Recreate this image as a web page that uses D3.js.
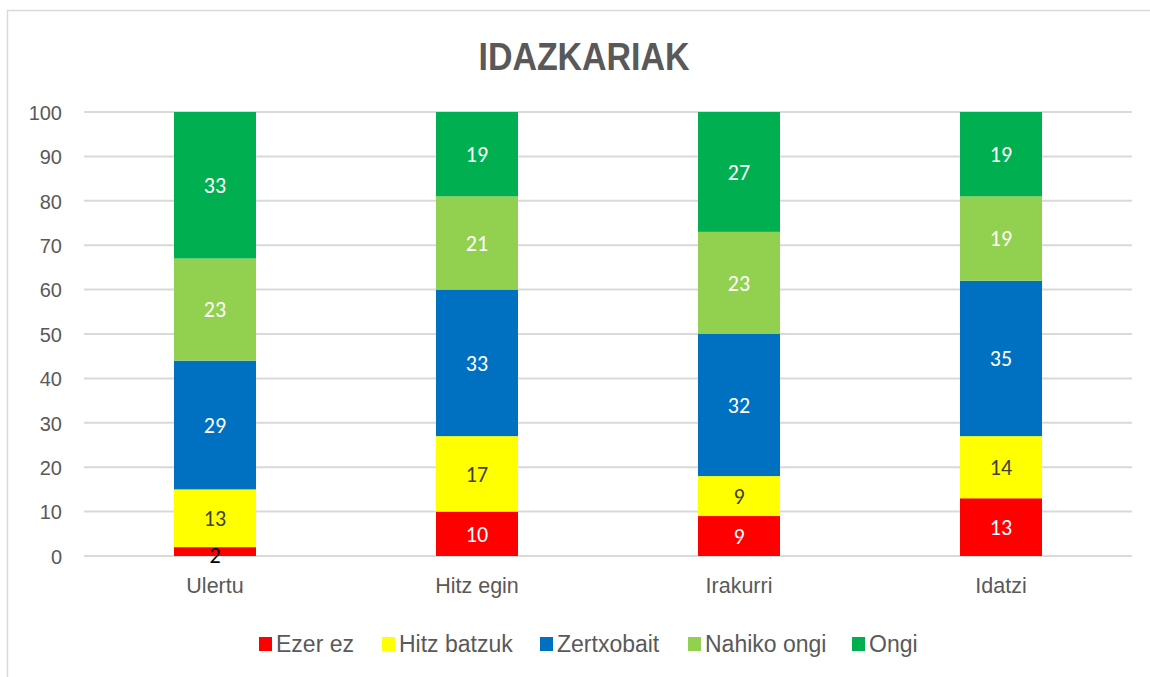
<!DOCTYPE html>
<meta charset="utf-8">
<body style="margin:0;background:#fff">
<style>
  .axis { font-family: "Liberation Sans", Arial, sans-serif; }
  .lbl { font-family: Carlito, Lato, "Open Sans", sans-serif; font-size: 22px; }
  .grid line { stroke: #d9d9d9; stroke-width: 2px; }
</style>
<svg width="1150" height="677"></svg>
<script src="https://d3js.org/d3.v7.min.js"></script>
<script>
var categories = ["Ulertu", "Hitz egin", "Irakurri", "Idatzi"];
var seriesNames = ["Ezer ez", "Hitz batzuk", "Zertxobait", "Nahiko ongi", "Ongi"];
var ezerEz     = [2, 10, 9, 13];
var hitzBatzuk = [13, 17, 9, 14];
var zertxobait = [29, 33, 32, 35];
var nahikoOngi = [23, 21, 23, 19];
var ongi       = [33, 19, 27, 19];
var yTicks = [0, 10, 20, 30, 40, 50, 60, 70, 80, 90, 100];

var colors = ["#ff0000", "#ffff00", "#0070c0", "#92d050", "#00b050"];
var labelColors = ["#ffffff", "#404040", "#ffffff", "#ffffff", "#ffffff"];

var svg = d3.select("svg");

// chart frame
svg.append("rect").attr("x", 7.5).attr("y", 10.5).attr("width", 1160).attr("height", 700)
   .attr("fill", "none").attr("stroke", "#d9d9d9").attr("stroke-width", 1.5);

svg.append("text").attr("class", "axis")
   .attr("transform", "translate(584,70) scale(0.87,1)")
   .attr("text-anchor", "middle")
   .attr("font-size", 39).attr("font-weight", "bold").attr("fill", "#595959")
   .text("IDAZKARIAK");

var x = d3.scaleBand().domain(categories).range([84, 1132]).paddingInner(0.687).paddingOuter(0.3435);
var y = d3.scaleLinear().domain([0, 100]).range([556, 112]);

var grid = svg.append("g").attr("class", "grid");
grid.selectAll("line").data(yTicks).enter().append("line")
    .attr("x1", 84).attr("x2", 1132)
    .attr("y1", function(d) { return y(d); }).attr("y2", function(d) { return y(d); });

var yAxis = svg.append("g").attr("transform", "translate(62,0)")
    .call(d3.axisLeft(y).tickValues(yTicks).tickSize(0).tickPadding(0));
yAxis.select(".domain").remove();
yAxis.selectAll("text").attr("class", "axis").attr("font-size", 20).attr("fill", "#595959").attr("dy", "0.36em");

var xAxis = svg.append("g").attr("transform", "translate(0,556)")
    .call(d3.axisBottom(x).tickSize(0).tickPadding(22));
xAxis.select(".domain").remove();
xAxis.selectAll("text").attr("class", "axis").attr("font-size", 21.5).attr("fill", "#595959");

var rows = categories.map(function(c, i) {
  return { cat: c, "Ezer ez": ezerEz[i], "Hitz batzuk": hitzBatzuk[i], "Zertxobait": zertxobait[i],
           "Nahiko ongi": nahikoOngi[i], "Ongi": ongi[i] };
});
var stacked = d3.stack().keys(seriesNames)(rows);

var layer = svg.selectAll(".layer").data(stacked).enter().append("g").attr("class", "layer");
layer.each(function(s, si) {
  var g = d3.select(this);
  g.selectAll("rect").data(s).enter().append("rect")
    .attr("x", function(d) { return x(d.data.cat); })
    .attr("width", x.bandwidth())
    .attr("y", function(d) { return y(d[1]); })
    .attr("height", function(d) { return y(d[0]) - y(d[1]); })
    .attr("fill", colors[si]);
});
layer.each(function(s, si) {
  d3.select(this).selectAll("text").data(s).enter().append("text")
    .attr("class", "lbl")
    .attr("x", function(d) { return x(d.data.cat) + x.bandwidth() / 2; })
    .attr("y", function(d) { return y((d[0] + d[1]) / 2); })
    .attr("dy", function(d) { return (d[1] - d[0]) < 5 ? "0.5em" : "0.35em"; })
    .attr("text-anchor", "middle")
    .attr("fill", function(d) { return (d[1] - d[0]) < 5 ? "#000000" : labelColors[si]; })
    .text(function(d) { return d[1] - d[0]; });
});

// legend
var legendX = [259, 382, 540, 688, 852];
var legend = svg.selectAll(".leg").data(seriesNames).enter().append("g")
    .attr("transform", function(d, i) { return "translate(" + legendX[i] + ",637)"; });
legend.append("rect").attr("width", 13).attr("height", 14).attr("fill", function(d, i) { return colors[i]; });
legend.append("text").attr("class", "axis").attr("x", 17).attr("y", 7).attr("dy", "0.36em")
    .attr("font-size", 23).attr("fill", "#595959").text(function(d) { return d; });
</script>
</body>
